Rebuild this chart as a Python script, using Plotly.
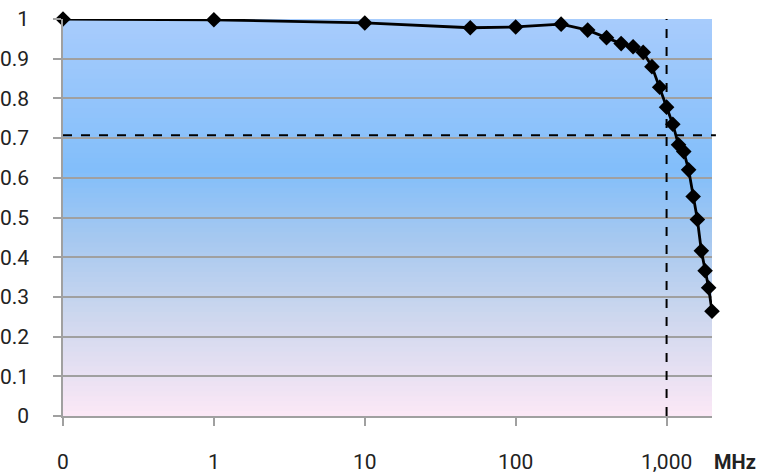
import math
import plotly.graph_objects as go

# Frequency response (normalised) vs frequency in MHz; 0.1 stands in for "0"
freq_mhz = [0.1, 1, 10, 50, 100, 200, 300, 400, 500, 600, 700, 800, 900,
            1000, 1100, 1200, 1300, 1400, 1500, 1600, 1700, 1800, 1900, 2000]
response = [1.0, 0.998, 0.99, 0.978, 0.98, 0.987, 0.972, 0.953, 0.938, 0.930,
            0.916, 0.880, 0.828, 0.778, 0.735, 0.683, 0.666, 0.620, 0.553,
            0.495, 0.416, 0.366, 0.323, 0.264]

x_tickvals = [0.1, 1, 10, 100, 1000]
x_ticktext = ["0", "1", "10", "100", "1,000"]
y_tickvals = [0, 0.1, 0.2, 0.3, 0.4, 0.5, 0.6, 0.7, 0.8, 0.9, 1]
y_ticktext = ["0", "0.1", "0.2", "0.3", "0.4", "0.5", "0.6", "0.7", "0.8", "0.9", "1"]

cutoff_level = 0.707
cutoff_freq = 1000

FONT = "Roboto, Liberation Sans, sans-serif"

# background gradient stops (value, rgb)
grad_stops = [
    (1.0, (168, 204, 252)),
    (0.62, (130, 190, 250)),
    (0.45, (165, 200, 240)),
    (0.25, (205, 215, 238)),
    (0.0, (252, 232, 246)),
]


def grad_color(v):
    for (v1, c1), (v0, c0) in zip(grad_stops, grad_stops[1:]):
        if v0 <= v <= v1:
            t = (v - v0) / (v1 - v0)
            return "rgb(%d,%d,%d)" % tuple(round(a + (b - a) * t) for a, b in zip(c0, c1))
    return "rgb(%d,%d,%d)" % grad_stops[-1][1]


fig = go.Figure()

fig.add_trace(
    go.Scatter(
        x=freq_mhz,
        y=response,
        mode="lines+markers",
        line=dict(color="black", width=2.8),
        marker=dict(symbol="diamond", size=12, color="black"),
        showlegend=False,
        cliponaxis=False,
    )
)

# gradient fill behind the grid, strips overlap a bit to avoid seams
shapes = []
n = 80
for i in range(n):
    y0 = i / n
    y1 = min(1, (i + 1.6) / n)
    shapes.append(dict(type="rect", xref="paper", yref="y", x0=0, x1=1, y0=y0, y1=y1,
                       fillcolor=grad_color((i + 0.5) / n), line=dict(width=0), layer="below"))

shapes.append(dict(type="line", xref="paper", yref="y", x0=0, x1=1.006,
                   y0=cutoff_level, y1=cutoff_level,
                   line=dict(color="black", width=2, dash="dash")))
shapes.append(dict(type="line", xref="x", yref="y", x0=cutoff_freq, x1=cutoff_freq,
                   y0=0, y1=1, line=dict(color="black", width=2, dash="dash")))

fig.update_layout(
    width=757,
    height=474,
    margin=dict(l=63, r=45, t=19, b=58),
    paper_bgcolor="white",
    plot_bgcolor="white",
    font=dict(family=FONT, size=21, color="#222"),
    shapes=shapes,
    annotations=[
        dict(text="<b>MHz</b>", xref="paper", yref="paper", x=1.035, y=-0.115,
             xanchor="center", yanchor="middle", showarrow=False,
             font=dict(family=FONT, size=20, color="#222"))
    ],
)

fig.update_xaxes(
    type="log",
    range=[-1, math.log10(2000)],
    tickvals=x_tickvals,
    ticktext=x_ticktext,
    showgrid=False,
    zeroline=False,
    showline=True,
    linecolor="#a0a0a0",
    linewidth=1.5,
    ticks="outside",
    ticklen=8,
    tickcolor="#a0a0a0",
    tickwidth=1.5,
    ticklabelstandoff=18,
    automargin=False,
)
fig.update_yaxes(
    range=[0, 1],
    tickvals=y_tickvals,
    ticktext=y_ticktext,
    showgrid=True,
    gridcolor="#a0a0a0",
    gridwidth=1.5,
    zeroline=False,
    showline=True,
    linecolor="#a0a0a0",
    linewidth=1.5,
    ticks="outside",
    ticklen=8,
    tickcolor="#a0a0a0",
    tickwidth=1.5,
    ticklabelstandoff=20,
    automargin=False,
)

# drop the default page margin so the figure sits at the window's corner
fig.write_html(
    "out.html",
    config={"displayModeBar": False},
    post_script="document.body.style.margin='0';",
)
